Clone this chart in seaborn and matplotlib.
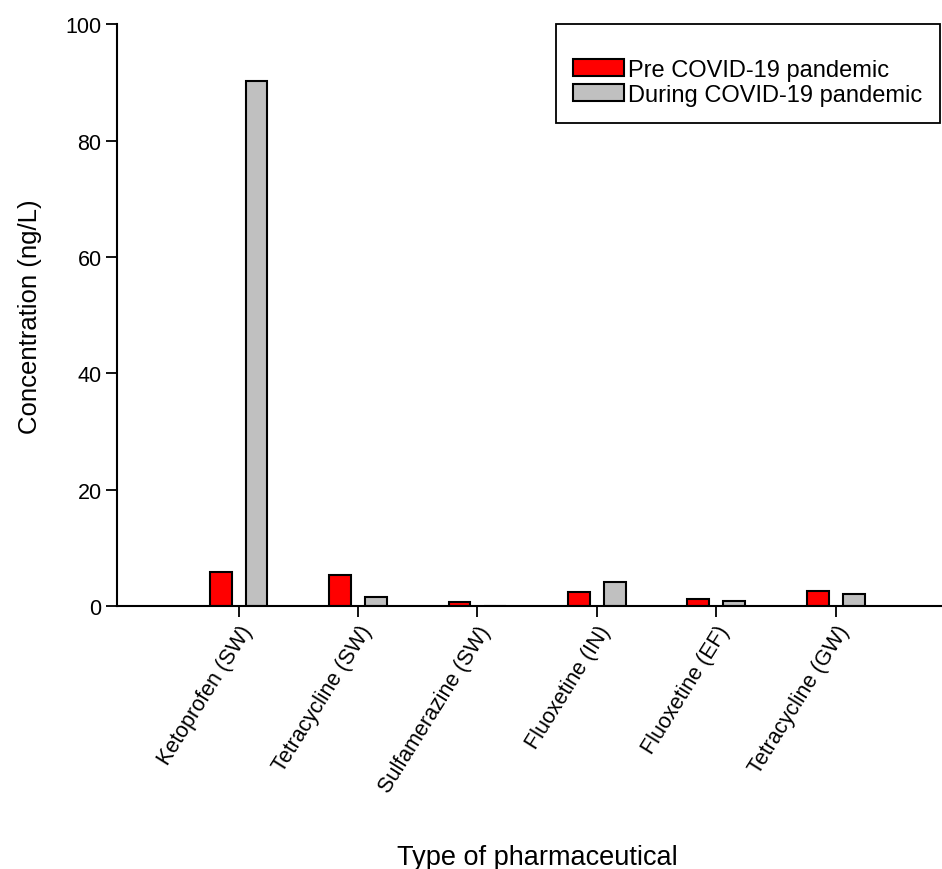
import matplotlib
matplotlib.use("Agg")
import matplotlib.pyplot as plt
import seaborn as sns
import pandas as pd

categories = ["Ketoprofen (SW)", "Tetracycline (SW)", "Sulfamerazine (SW)",
              "Fluoxetine (IN)", "Fluoxetine (EF)", "Tetracycline (GW)"]
pre_covid = [5.9, 5.3, 0.75, 2.45, 1.3, 2.6]
during_covid = [90.2, 1.65, 0.0, 4.2, 0.9, 2.1]
series_names = ["Pre COVID-19 pandemic", "During COVID-19 pandemic"]
y_ticks = [0, 20, 40, 60, 80, 100]

df = pd.DataFrame({
    "drug": categories * 2,
    "conc": pre_covid + during_covid,
    "period": [series_names[0]] * len(categories) + [series_names[1]] * len(categories),
})

sns.set_style("ticks")
plt.rcParams["font.family"] = ["Liberation Sans", "DejaVu Sans"]
for k in ["text.color", "axes.labelcolor", "xtick.color", "ytick.color"]:
    plt.rcParams[k] = "black"

fig = plt.figure(figsize=(9.42, 8.70), dpi=100)
ax = fig.add_axes([0.124, 0.302, 0.876, 0.669])

sns.barplot(data=df, x="drug", y="conc", hue="period", order=categories,
            hue_order=series_names, palette=["#ff0000", "#c0c0c0"], saturation=1,
            width=0.6, gap=0.39, edgecolor="black", linewidth=1.5, ax=ax)

ax.set_xlim(-1.02, 5.89)
ax.set_ylim(0, 100)
ax.set_yticks(y_ticks)
ax.tick_params(axis="both", direction="out", length=8, width=1.3, labelsize=15.5, pad=3)
ax.tick_params(axis="x", labelsize=15.5)
for lbl in ax.get_xticklabels():
    lbl.set_rotation(58)
    lbl.set_ha("right")
    lbl.set_rotation_mode("anchor")
for s in ["top", "right"]:
    ax.spines[s].set_visible(False)
for s in ["left", "bottom"]:
    ax.spines[s].set_linewidth(1.5)
    ax.spines[s].set_color("black")

ax.set_xlabel("Type of pharmaceutical", fontsize=19.5)
ax.set_ylabel("Concentration (ng/L)", fontsize=18.5)
ax.xaxis.set_label_coords(0.51, -0.408)
ax.yaxis.set_label_coords(-0.091, 0.5)

leg = ax.legend(loc="upper right", bbox_to_anchor=(0.998, 1.0), borderaxespad=0,
                fontsize=17, handlelength=2.15, handleheight=0.7,
                fancybox=False, framealpha=1, edgecolor="black", borderpad=0.75,
                labelspacing=0.12, title=" ", title_fontsize=11, handletextpad=0.18)
leg.get_frame().set_linewidth(1.3)

fig.savefig("out.png", dpi=100)
